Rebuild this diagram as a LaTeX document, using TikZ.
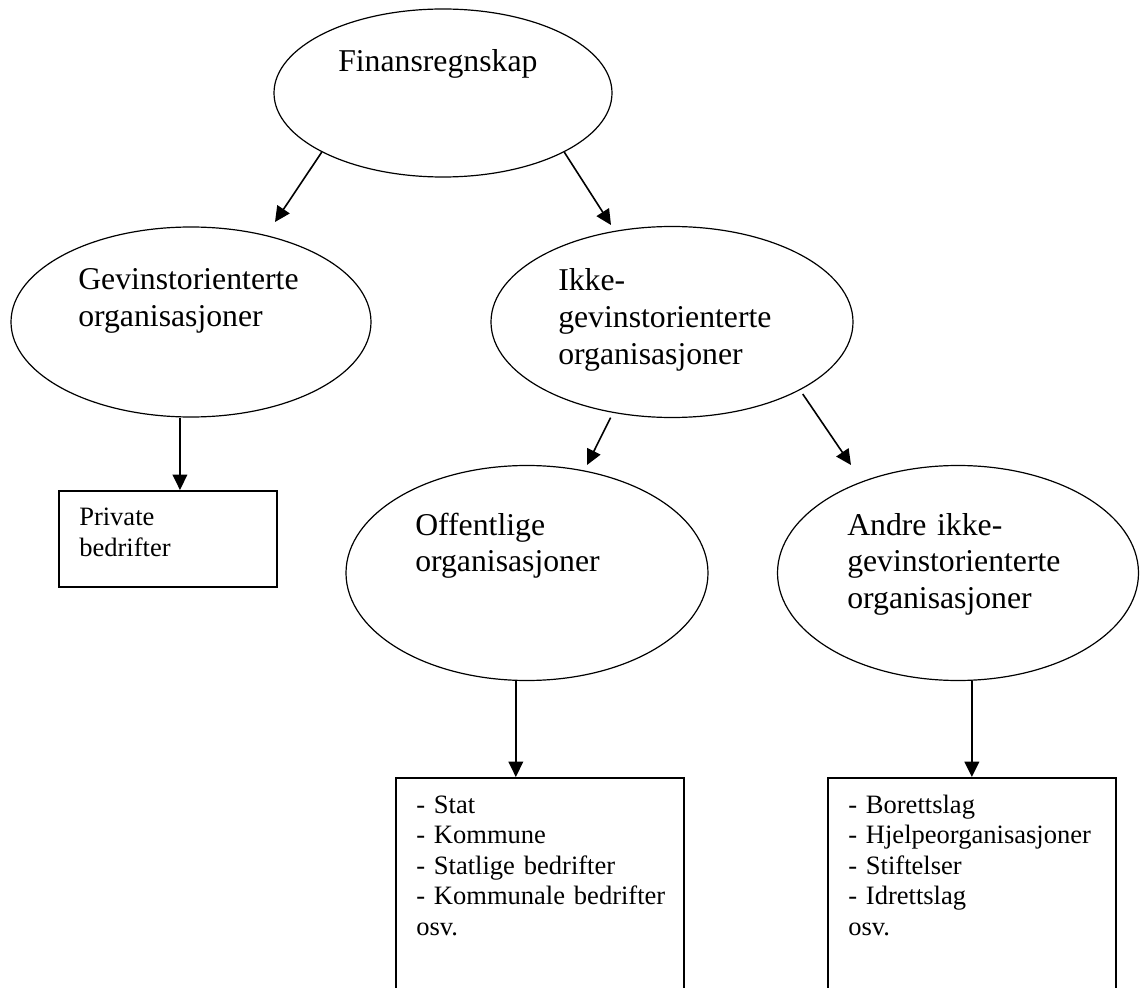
\documentclass[tikz,border=0pt]{standalone}
\usepackage{fontspec}
\setmainfont{Liberation Serif}
\usetikzlibrary{shapes}
\usetikzlibrary{arrows.meta}
\usetikzlibrary{calc}

\begin{document}
\begin{tikzpicture}[x=0.75pt,y=0.75pt,yscale=-1,xscale=1,
  oval/.style={draw, ellipse, line width=0.9pt, inner sep=0pt},
  box/.style={draw, rectangle, line width=1.3pt, inner sep=0pt, anchor=north west},
  big/.style={anchor=base west, inner sep=0pt, text width=240pt, align=left, font=\fontsize{23.8}{27.4}\selectfont},
  small/.style={anchor=base west, inner sep=0pt, text width=220pt, align=left, font=\fontsize{19.9}{22.9}\selectfont},
  arr/.style={line width=1.2pt, -{Triangle[length=11.5pt,width=11pt]}}]
  \useasboundingbox (0,0) rectangle (1140,988);
  \clip (0,0) rectangle (1140,988);
  % ellipses
  \node [oval, minimum width=253.5pt, minimum height=126pt]    (fin)   at (443,93)  {};
  \node [oval, minimum width=270pt,   minimum height=142.5pt]  (gev)   at (191,322) {};
  \node [oval, minimum width=271.5pt, minimum height=143.25pt] (ikke)  at (672,322) {};
  \node [oval, minimum width=271.5pt, minimum height=161.25pt] (off)   at (527,573) {};
  \node [oval, minimum width=270.75pt,minimum height=161.25pt] (andre) at (958,573) {};
  % boxes
  \node [box, minimum width=163.5pt, minimum height=72pt]  (priv)     at (58,490)  {};
  \node [box, minimum width=216pt,   minimum height=168pt] (offbox)   at (395,777) {};
  \node [box, minimum width=216pt,   minimum height=168pt] (andrebox) at (827,777) {};
  % texts
  \node [big] (finT)   at (338,72)  {Finansregnskap};
  \node [big] (gevT)   at (78,290)  {Gevinstorienterte\\organisasjoner};
  \node [big] (ikkeT)  at (558,291) {Ikke-\\gevinstorienterte\\organisasjoner};
  \node [big] (offT)   at (415,535) {Offentlige\\organisasjoner};
  \node [big] (andreT) at (847,535) {Andre ikke-\\gevinstorienterte\\organisasjoner};
  \node [small, font=\fontsize{19.9}{23.3}\selectfont] (privT) at (79,525) {Private\\bedrifter};
  \node [small] (offL)   at (416,813) {- Stat\\- Kommune\\- Statlige bedrifter\\- Kommunale bedrifter\\osv.};
  \node [small] (andreL) at (848,813) {- Borettslag\\- Hjelpeorganisasjoner\\- Stiftelser\\- Idrettslag\\osv.};
  % arrow ends
  \coordinate (gevTip)   at (275,222);
  \coordinate (ikkeTip)  at (611,225);
  \coordinate (offTip)   at (587,465);
  \coordinate (andreTip) at (851,465);
  \coordinate (privIn) at ($(priv.north west)!0.555!(priv.north east)$);
  \coordinate (offIn)  at ($(offbox.north west)!0.417!(offbox.north east)$);
  % arrows
  \draw [arr] (fin.206.6) -- (gevTip);
  \draw [arr] (fin.-26.6) -- (ikkeTip);
  \draw [arr, shorten <=4pt] (ikke.237.6) -- (offTip);
  \draw [arr, shorten <=3.5pt] (ikke.-28.5) -- (andreTip);
  \draw [arr] (gev.south -| privIn) -- (privIn);
  \draw [arr] (off.south -| offIn) -- (offIn);
  \draw [arr] (andre.south -| andrebox.north) -- (andrebox.north);
\end{tikzpicture}
\end{document}
